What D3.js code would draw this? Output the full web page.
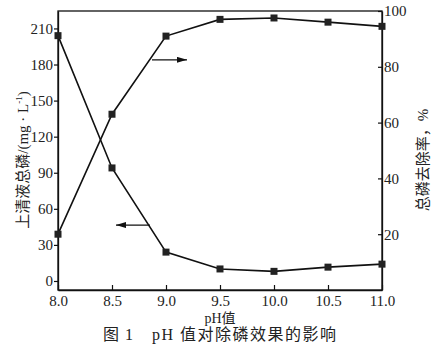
<!DOCTYPE html>
<html>
<head>
<meta charset="utf-8">
<script src="https://cdn.jsdelivr.net/npm/d3@7.9.0/dist/d3.min.js"></script>
<style>
  body { margin: 0; background: #fff; }
  svg { display: block; }
</style>
</head>
<body>
<svg id="chart" width="444" height="347"></svg>
<script>
// pH values and the two measured series
const phValues = [8.0, 8.5, 9.0, 9.5, 10.0, 10.5, 11.0];
const concentration = [204, 94, 24, 10, 8, 11.5, 14];   // mg/L, left axis
const removalRate = [20, 63, 91, 97, 97.5, 96, 94.5];   // %, right axis

const xTicks = [8.0, 8.5, 9.0, 9.5, 10.0, 10.5, 11.0];
const leftTicks = [0, 30, 60, 90, 120, 150, 180, 210];
const rightTicks = [20, 40, 60, 80, 100];

const plotL = 58, plotR = 382, plotT = 11, plotB = 290;
const serif = '"Liberation Serif", "Times New Roman", "DejaVu Serif", serif';
const mixed = '"Liberation Serif", "Noto Sans CJK SC", serif';

const svg = d3.select("#chart");

const x = d3.scaleLinear().domain([8, 11]).range([plotL, plotR]);
const yL = d3.scaleLinear().domain([-7.5, 224.5]).range([plotB, plotT]);
const yR = d3.scaleLinear().domain([0, 100]).range([plotB, plotT]);

// frame
svg.append("rect")
    .attr("x", plotL).attr("y", plotT)
    .attr("width", plotR - plotL).attr("height", plotB - plotT)
    .attr("fill", "none").attr("stroke", "#111").attr("stroke-width", 1.3);

// axes
let gx = svg.append("g").attr("transform", `translate(0,${plotB})`)
    .call(d3.axisBottom(x).tickValues(xTicks).tickFormat(d3.format(".1f")).tickSizeInner(-5).tickSizeOuter(0).tickPadding(6));
let gl = svg.append("g").attr("transform", `translate(${plotL},0)`)
    .call(d3.axisLeft(yL).tickValues(leftTicks).tickSizeInner(4).tickSizeOuter(0).tickPadding(1));
let gr = svg.append("g").attr("transform", `translate(${plotR},0)`)
    .call(d3.axisRight(yR).tickValues(rightTicks).tickSizeInner(-4).tickSizeOuter(0).tickPadding(3));

[gx, gl, gr].forEach(g => {
    g.attr("font-family", serif).attr("font-size", 15);
    g.select(".domain").attr("stroke", "#111").attr("stroke-width", 1.3);
    g.selectAll(".tick line").attr("stroke", "#111").attr("stroke-width", 1.2);
    g.selectAll(".tick text").attr("fill", "#222");
});
gx.selectAll(".tick text").attr("y", 5);
gr.selectAll(".tick text").attr("x", 2);

// series
const lineL = d3.line().x((d, i) => x(phValues[i])).y(d => yL(d));
const lineR = d3.line().x((d, i) => x(phValues[i])).y(d => yR(d));

svg.append("path").attr("d", lineL(concentration))
    .attr("fill", "none").attr("stroke", "#111").attr("stroke-width", 1.6);
svg.append("path").attr("d", lineR(removalRate))
    .attr("fill", "none").attr("stroke", "#111").attr("stroke-width", 1.6);

const s = 7;
svg.selectAll(".mL").data(concentration).join("rect")
    .attr("x", (d, i) => x(phValues[i]) - s / 2).attr("y", d => yL(d) - s / 2)
    .attr("width", s).attr("height", s).attr("fill", "#222");
svg.selectAll(".mR").data(removalRate).join("rect")
    .attr("x", (d, i) => x(phValues[i]) - s / 2).attr("y", d => yR(d) - s / 2)
    .attr("width", s).attr("height", s).attr("fill", "#222");

// arrows pointing to the matching axis
svg.append("defs").append("marker")
    .attr("id", "arrow").attr("viewBox", "0 0 10 6")
    .attr("refX", 10).attr("refY", 3)
    .attr("markerWidth", 10).attr("markerHeight", 6)
    .attr("markerUnits", "userSpaceOnUse").attr("orient", "auto")
    .append("path").attr("d", "M0,0L10,3L0,6Z").attr("fill", "#111");

svg.append("line")
    .attr("x1", 152).attr("y1", yR(82.5)).attr("x2", 187).attr("y2", yR(82.5))
    .attr("stroke", "#111").attr("stroke-width", 1.2).attr("marker-end", "url(#arrow)");
svg.append("line")
    .attr("x1", 150).attr("y1", yL(46.5)).attr("x2", 116).attr("y2", yL(46.5))
    .attr("stroke", "#111").attr("stroke-width", 1.2).attr("marker-end", "url(#arrow)");

// labels
let yLabel = svg.append("text")
    .attr("transform", "translate(28,160) rotate(-90)")
    .attr("text-anchor", "middle").attr("font-size", 15)
    .attr("font-family", mixed).attr("fill", "#222");
yLabel.append("tspan").text("上清液总磷/(mg · L");
yLabel.append("tspan").attr("dy", -6).attr("font-size", 9).text("-1");
yLabel.append("tspan").attr("dy", 6).text(")");

svg.append("text")
    .attr("transform", "translate(428,160) rotate(-90)")
    .attr("text-anchor", "middle").attr("font-size", 15)
    .attr("font-family", mixed).attr("fill", "#222")
    .text("总磷去除率，%");

svg.append("text")
    .attr("x", 220).attr("y", 323)
    .attr("text-anchor", "middle").attr("font-size", 14)
    .attr("font-family", mixed).attr("fill", "#222")
    .text("pH值");

svg.append("text")
    .attr("x", 103).attr("y", 340)
    .attr("font-size", 16).attr("letter-spacing", 1)
    .attr("font-family", mixed).attr("fill", "#222")
    .text("图 1");
svg.append("text")
    .attr("x", 152).attr("y", 340)
    .attr("font-size", 16).attr("letter-spacing", 1.5)
    .attr("font-family", mixed).attr("fill", "#222")
    .text("pH 值对除磷效果的影响");
</script>
</body>
</html>
